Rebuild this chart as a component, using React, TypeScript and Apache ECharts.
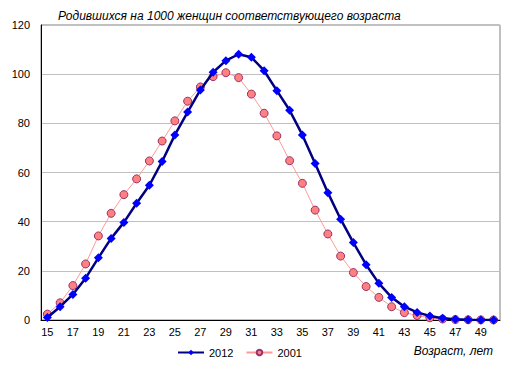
import React, { useEffect, useRef } from "react";
import * as echarts from "echarts";

const ages = [15,16,17,18,19,20,21,22,23,24,25,26,27,28,29,30,31,32,33,34,35,36,37,38,39,40,41,42,43,44,45,46,47,48,49,50].map(String);
const y2012 = [1.0,5.4,10.4,17.0,25.3,33.2,39.7,47.5,54.8,64.5,75.3,84.6,93.6,100.8,105.5,108.1,106.9,101.4,93.3,85.3,75.3,63.7,51.8,41.0,31.5,22.5,14.9,9.2,5.4,3.1,1.6,0.7,0.3,0.15,0.05,0.02];
const y2001 = [2.4,7.0,14.0,22.8,34.2,43.4,51.0,57.4,64.7,72.8,81.0,89.0,94.8,99.0,100.6,98.6,91.9,84.1,74.9,64.8,55.6,44.7,35.0,26.0,19.3,13.6,9.2,5.4,3.0,1.8,0.9,0.4,0.2,0.1,0.05,0.02];
const yTicks = { min: 0, max: 120, interval: 20 };
const titleText = "Родившихся на 1000 женщин соответствующего возраста";
const xName = "Возраст, лет";

export default function App() {
  const ref = useRef<HTMLDivElement>(null);
  useEffect(() => {
    if (!ref.current) return;
    const chart = echarts.init(ref.current, null, { renderer: "svg" });
    const font = "'Liberation Sans', Arial, sans-serif";
    chart.setOption({
      animation: false,
      backgroundColor: "#ffffff",
      textStyle: { fontFamily: font },
      title: {
        text: titleText,
        left: 53,
        top: 5,
        textStyle: { fontSize: 12, fontStyle: "italic", fontWeight: "normal", color: "#000", fontFamily: font },
      },
      grid: { left: 41, right: 14, top: 25, bottom: 50, show: true, borderColor: "#808080", borderWidth: 1 },
      legend: {
        bottom: 7,
        left: 172,
        itemWidth: 26,
        itemHeight: 7,
        itemGap: 12,
        textStyle: { fontSize: 11, color: "#000", fontFamily: font },
        data: ["2012", "2001"],
      },
      xAxis: {
        type: "category",
        data: ages,
        boundaryGap: true,
        axisLine: { lineStyle: { color: "#000", width: 1 } },
        axisTick: { show: false },
        axisLabel: { interval: 1, color: "#000", fontSize: 11, margin: 6, fontFamily: font },
        splitLine: { show: false },
      },
      yAxis: {
        type: "value",
        min: yTicks.min,
        max: yTicks.max,
        interval: yTicks.interval,
        axisLine: { show: true, lineStyle: { color: "#000", width: 1 } },
        axisTick: { show: false },
        axisLabel: { color: "#000", fontSize: 11, margin: 11, fontFamily: font },
        splitLine: { lineStyle: { color: "#c0c0c0", width: 1 } },
      },
      graphic: [
        {
          type: "text",
          right: 21,
          top: 345,
          style: { text: xName, fontSize: 12, fontStyle: "italic", fill: "#000", font: "italic 12px 'Liberation Sans', Arial, sans-serif" },
        },
      ],
      series: [
        {
          name: "2012",
          type: "line",
          data: y2012,
          symbol: "diamond",
          symbolSize: 9,
          showSymbol: true,
          showAllSymbol: true,
          z: 3,
          lineStyle: { color: "#000080", width: 2.5 },
          itemStyle: { color: "#0000ff", borderColor: "#0000ff", borderWidth: 0 },
        },
        {
          name: "2001",
          type: "line",
          data: y2001,
          symbol: "circle",
          symbolSize: 8,
          showSymbol: true,
          showAllSymbol: true,
          z: 2,
          lineStyle: { color: "#ff9999", width: 1 },
          itemStyle: { color: "#ff8080", borderColor: "#993366", borderWidth: 1 },
        },
      ],
    });
    return () => chart.dispose();
  }, []);
  return <div ref={ref} style={{ position: "fixed", left: 0, top: 0, width: 514, height: 370 }} />;
}
